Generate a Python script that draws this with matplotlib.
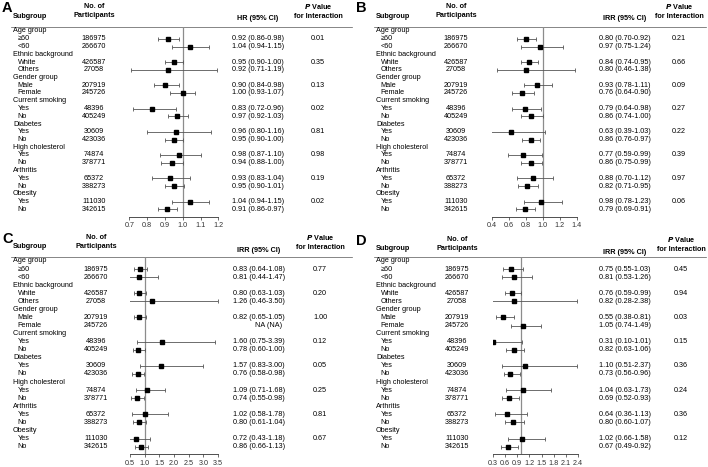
import matplotlib
matplotlib.use("Agg")
import matplotlib.pyplot as plt

plt.rcParams['font.family'] = ['Liberation Sans', 'DejaVu Sans']

W, H = 708, 467

# rows: group headers + levels
groups = ["Age group", "Ethnic background", "Gender group", "Current smoking",
          "Diabetes", "High cholesterol", "Arthritis", "Obesity"]
levels = [["\u226560", "<60"], ["White", "Others"], ["Male", "Female"], ["Yes", "No"],
          ["Yes", "No"], ["Yes", "No"], ["Yes", "No"], ["Yes", "No"]]
participants = [186975, 266670, 426587, 27058, 207919, 245726, 48396, 405249,
                30609, 423036, 74874, 378771, 65372, 388273, 111030, 342615]

# Panel A: HR
a_est = [0.92, 1.04, 0.95, 0.92, 0.90, 1.00, 0.83, 0.97, 0.96, 0.95, 0.98, 0.94, 0.93, 0.95, 1.04, 0.91]
a_lo = [0.86, 0.94, 0.90, 0.71, 0.84, 0.93, 0.72, 0.92, 0.80, 0.90, 0.87, 0.88, 0.83, 0.90, 0.94, 0.86]
a_hi = [0.98, 1.15, 1.00, 1.19, 0.98, 1.07, 0.96, 1.03, 1.16, 1.00, 1.10, 1.00, 1.04, 1.01, 1.15, 0.97]
a_p = ["0.01", "0.35", "0.13", "0.02", "0.81", "0.98", "0.19", "0.02"]

# Panel B: IRR
b_est = [0.80, 0.97, 0.84, 0.80, 0.93, 0.76, 0.79, 0.86, 0.63, 0.86, 0.77, 0.86, 0.88, 0.82, 0.98, 0.79]
b_lo = [0.70, 0.75, 0.74, 0.46, 0.78, 0.64, 0.64, 0.74, 0.39, 0.76, 0.59, 0.75, 0.70, 0.71, 0.78, 0.69]
b_hi = [0.92, 1.24, 0.95, 1.38, 1.11, 0.90, 0.98, 1.00, 1.03, 0.97, 0.99, 0.99, 1.12, 0.95, 1.23, 0.91]
b_p = ["0.21", "0.66", "0.09", "0.27", "0.22", "0.39", "0.97", "0.06"]

# Panel C: IRR (None = NA)
c_est = [0.83, 0.81, 0.80, 1.26, 0.82, None, 1.60, 0.78, 1.57, 0.76, 1.09, 0.74, 1.02, 0.80, 0.72, 0.86]
c_lo = [0.64, 0.44, 0.63, 0.46, 0.65, None, 0.75, 0.60, 0.83, 0.58, 0.71, 0.55, 0.58, 0.61, 0.43, 0.66]
c_hi = [1.08, 1.47, 1.03, 3.50, 1.05, None, 3.39, 1.00, 3.00, 0.98, 1.68, 0.98, 1.78, 1.04, 1.18, 1.13]
c_p = ["0.77", "0.20", "1.00", "0.12", "0.05", "0.25", "0.81", "0.67"]

# Panel D: IRR
d_est = [0.75, 0.81, 0.76, 0.82, 0.55, 1.05, 0.31, 0.82, 1.10, 0.73, 1.04, 0.69, 0.64, 0.80, 1.02, 0.67]
d_lo = [0.55, 0.53, 0.59, 0.28, 0.38, 0.74, 0.10, 0.63, 0.51, 0.56, 0.63, 0.52, 0.36, 0.60, 0.66, 0.49]
d_hi = [1.03, 1.26, 0.99, 2.38, 0.81, 1.49, 1.01, 1.06, 2.37, 0.96, 1.73, 0.93, 1.13, 1.07, 1.58, 0.92]
d_p = ["0.45", "0.94", "0.03", "0.15", "0.36", "0.24", "0.36", "0.12"]

a_ticks = [0.7, 0.8, 0.9, 1.0, 1.1, 1.2]
b_ticks = [0.4, 0.6, 0.8, 1.0, 1.2, 1.4]
c_ticks = [0.5, 1.0, 1.5, 2.0, 2.5, 3.0, 3.5]
d_ticks = [0.3, 0.6, 0.9, 1.2, 1.5, 1.8, 2.1, 2.4]

fig = plt.figure(figsize=(W / 100, H / 100), dpi=100)
tx = fig.add_axes([0, 0, 1, 1])
tx.set_xlim(0, W)
tx.set_ylim(H, 0)
tx.axis('off')

FS = 5.2


def fmt(e, lo, hi):
    if e is None:
        return "NA (NA)"
    return f"{e:.2f} ({lo:.2f}-{hi:.2f})"


def panel(ox, oy, letter, measure, est, lo, hi, pvals, ticks, cfg, step):
    sx, nx, fx0, fx1, ex, px, hy = cfg
    y0 = oy + 31
    tx.text(ox + 2, oy + hy - 7, letter, fontsize=10.5, fontweight='bold', va='center', ha='left')
    tx.text(ox + sx, oy + hy + 1, "Subgroup", fontsize=FS, fontweight='bold', va='center')
    tx.text(ox + nx, oy + hy - 4, "No. of\nParticipants", fontsize=FS, fontweight='bold',
            va='center', ha='center', linespacing=1.3)
    tx.text(ox + ex + 26, oy + hy + 4, f"{measure} (95% CI)", fontsize=FS, fontweight='bold',
            va='center', ha='center')
    tx.text(ox + px, oy + hy - 4, "$\\bfit{P}$ Value\nfor Interaction", fontsize=FS, fontweight='bold',
            va='center', ha='center', linespacing=1.3)
    tx.plot([ox + sx - 2, ox + 352], [y0 - 4.5, y0 - 4.5], color='#555555', lw=0.5)

    ys = []
    r = 0
    for g, lv in zip(groups, levels):
        tx.text(ox + sx, y0 + r * step, g, fontsize=FS, va='center')
        r += 1
        for name in lv:
            tx.text(ox + sx + 4.5, y0 + r * step, name, fontsize=FS, va='center')
            ys.append(r)
            r += 1

    for i, yr in enumerate(ys):
        yy = y0 + yr * step
        tx.text(ox + nx, yy, str(participants[i]), fontsize=FS, va='center', ha='center')
        t = fmt(est[i], lo[i], hi[i])
        if est[i] is None:
            tx.text(ox + ex + 36, yy, t, fontsize=FS, va='center', ha='center')
        else:
            tx.text(ox + ex, yy, t, fontsize=FS, va='center', ha='left')
    for k, p in enumerate(pvals):
        tx.text(ox + px, y0 + ys[2 * k] * step, p, fontsize=FS, va='center', ha='center')

    # forest axes in pixel coordinates
    top = y0 - 4.5
    bot = y0 + 23 * step + 7.4
    ax = fig.add_axes([(ox + fx0) / W, 1 - bot / H, (fx1 - fx0) / W, (bot - top) / H])
    ax.set_xlim(ticks[0], ticks[-1])
    ax.set_ylim((bot - y0) / step, (top - y0) / step)
    ax.patch.set_alpha(0)
    for s in ['top', 'left', 'right']:
        ax.spines[s].set_visible(False)
    ax.spines['bottom'].set_linewidth(0.6)
    ax.spines['bottom'].set_color('#333333')
    ax.set_yticks([])
    ax.set_xticks(ticks)
    ax.set_xticklabels([f"{t:.1f}" for t in ticks])
    ax.tick_params(axis='x', labelsize=FS, length=2.5, width=0.5, pad=1.5, colors='#333333')
    ax.axvline(1.0, color='#8c8c8c', lw=0.9, zorder=1)
    for i, yr in enumerate(ys):
        if est[i] is None:
            continue
        ax.errorbar(est[i], yr, xerr=[[est[i] - lo[i]], [hi[i] - est[i]]], fmt='s',
                    color='#555555', mfc='black', mec='black', ms=2.5, elinewidth=0.6,
                    capsize=1.3, capthick=0.6, zorder=3)


panel(0, 0, "A", "HR", a_est, a_lo, a_hi, a_p, a_ticks,
      (13, 94, 129.3, 218.3, 232, 318, 15), 7.75)
panel(354, 0, "B", "IRR", b_est, b_lo, b_hi, b_p, b_ticks,
      (22, 102, 137.7, 222.7, 245, 325, 15), 7.75)
panel(0, 230, "C", "IRR", c_est, c_lo, c_hi, c_p, c_ticks,
      (13, 96, 130, 218, 233, 320, 16), 8.07)
panel(354, 230, "D", "IRR", d_est, d_lo, d_hi, d_p, d_ticks,
      (22, 103, 139, 224, 245, 327, 18), 8.07)

fig.savefig("out.png", dpi=100)
